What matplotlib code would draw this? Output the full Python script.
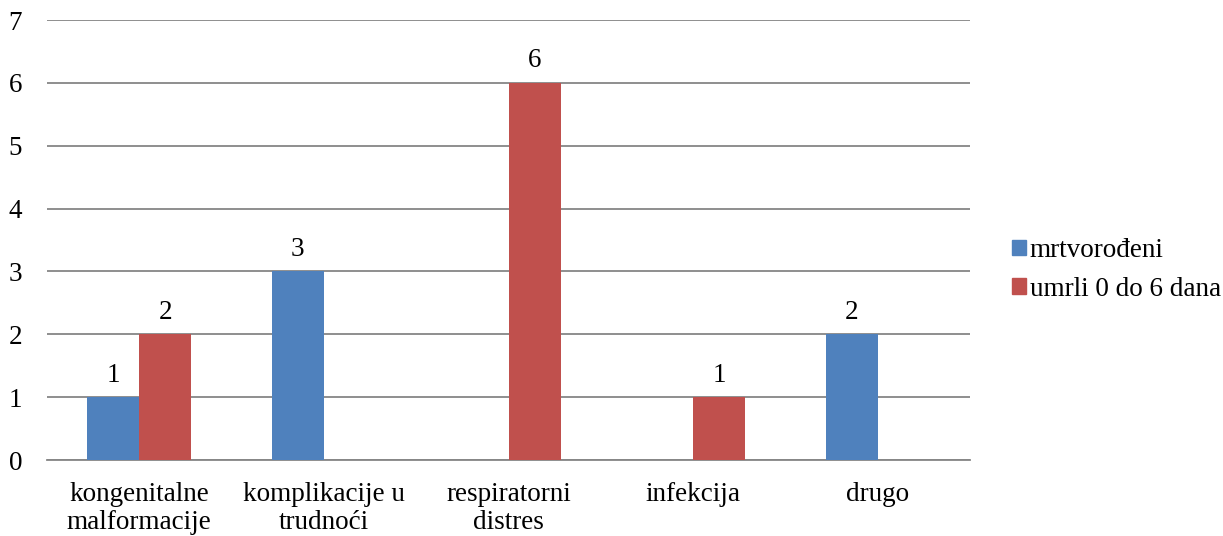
import matplotlib.pyplot as plt
import numpy as np
from matplotlib.patches import Patch

categories = ["kongenitalne\nmalformacije", "komplikacije u\ntrudnoći", "respiratorni\ndistres", "infekcija", "drugo"]
stillborn = [1, 3, 0, 0, 2]
died_0_6 = [2, 0, 6, 1, 0]
series_names = ["mrtvorođeni", "umrli 0 do 6 dana"]
colors = ["#4F81BD", "#C0504D"]

plt.rcParams['font.family'] = ['Liberation Serif', 'DejaVu Serif']
fs = 19.5

fig = plt.figure(figsize=(12.23, 5.36), dpi=100)
ax = fig.add_axes([47 / 1223, 1 - 460 / 536, 923 / 1223, 440 / 536])

x = np.arange(len(categories))
w = 0.282
for vals, off, col in [(stillborn, -w / 2, colors[0]), (died_0_6, w / 2, colors[1])]:
    for xi, v in zip(x, vals):
        if v > 0:
            ax.bar(xi + off, v, width=w, color=col, zorder=3)
            ax.text(xi + off, v + 0.15, str(v), ha='center', va='bottom', fontsize=fs)

ax.set_xlim(-0.5, len(categories) - 0.5)
ax.set_ylim(0, 7)
ax.set_yticks(range(8))
ax.yaxis.grid(True, color='#868686', linewidth=1.3, zorder=0)
ax.set_axisbelow(True)
for s in ['left', 'right', 'top']:
    ax.spines[s].set_visible(False)
ax.spines['bottom'].set_color('#868686')
ax.spines['bottom'].set_linewidth(1.3)
ax.tick_params(axis='y', length=0, pad=18, labelsize=fs)
ax.tick_params(axis='x', length=0, pad=16, labelsize=fs)
ax.set_xticks(x)
ax.set_xticklabels(categories, linespacing=1.15)

handles = [Patch(color=c) for c in colors]
fig.legend(handles, series_names, loc='center left', bbox_to_anchor=(1012 / 1223, 1 - 270 / 536),
           borderaxespad=0, borderpad=0,
           frameon=False, fontsize=fs, handlelength=0.5, handleheight=0.5, handletextpad=0.15,
           labelspacing=0.5)

fig.savefig("out.png", dpi=100)
